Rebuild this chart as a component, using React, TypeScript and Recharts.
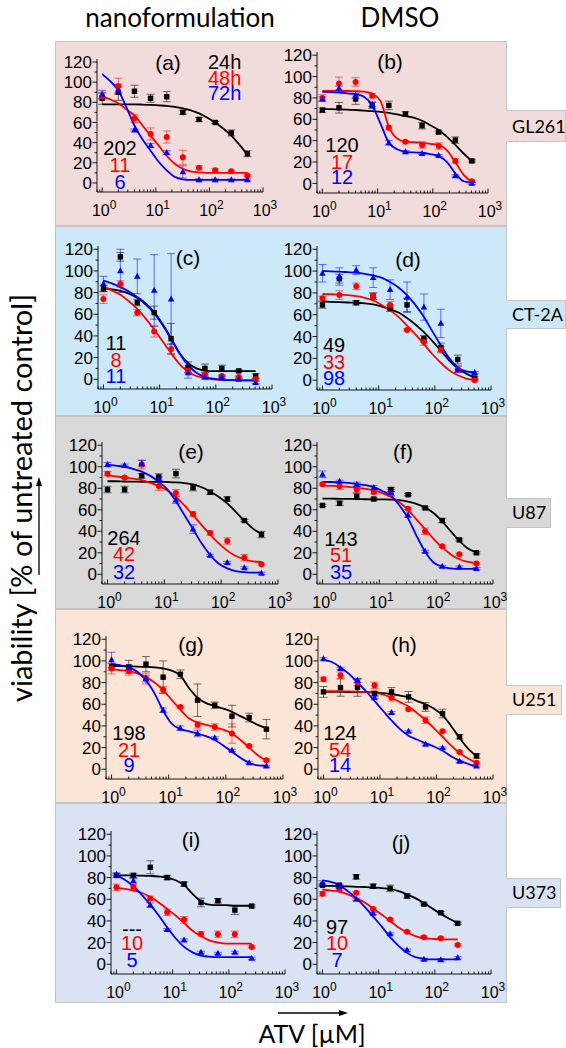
import React from 'react';
import { ComposedChart, Scatter, XAxis, YAxis, ErrorBar } from 'recharts';

// ---------- shared axes / labels ----------
const DOSES = [1, 2, 4, 8, 16, 32, 64, 128, 256, 512];
const DOSES_U373 = [1, 2, 4, 8, 16, 32, 64, 128, 256];
const FIT_X = [1, 1.41, 2, 2.83, 4, 5.66, 8, 11.3, 16, 22.6, 32, 45, 64, 90, 128, 181, 256, 362, 512];
const FIT_X_U373 = [1, 1.41, 2, 2.83, 4, 5.66, 8, 11.3, 16, 22.6, 32, 45, 64, 90, 128, 181, 256];
const X_TICKS = [0.8, 0.9, 1, 2, 3, 4, 5, 6, 7, 8, 9, 10, 20, 30, 40, 50, 60, 70, 80, 90, 100, 200, 300, 400, 500, 600, 700, 800, 900, 1000];
const Y_TICKS = [0, 10, 20, 30, 40, 50, 60, 70, 80, 90, 100, 110, 120];
const TIME_LABELS = ['24h', '48h', '72h'];
const COLUMN_TITLES = ['nanoformulation', 'DMSO'];
const CELL_LINES = ['GL261', 'CT-2A', 'U87', 'U251', 'U373'];
const PANEL_LETTERS = ['(a)', '(b)', '(c)', '(d)', '(e)', '(f)', '(g)', '(h)', '(i)', '(j)'];
const Y_TITLE = 'viability [% of untreated control]';
const X_TITLE = 'ATV [\u00b5M]';

// ---------- IC50 labels ----------
const IC50_A = ['202', '11', '6'];
const IC50_B = ['120', '17', '12'];
const IC50_C = ['11', '8', '11'];
const IC50_D = ['49', '33', '98'];
const IC50_E = ['264', '42', '32'];
const IC50_F = ['143', '51', '35'];
const IC50_G = ['198', '21', '9'];
const IC50_H = ['124', '54', '14'];
const IC50_I = ['---', '10', '5'];
const IC50_J = ['97', '10', '7'];

// ---------- (a) GL261 nano ----------
const A_24H = [84, 90, 91, 84, 85.6, 70, 63, 60, 49.6, 29];
const A_24H_ERR = [6, 8, 6, 4, 5, 2, 2, 1, 3, 3];
const A_48H = [86, 96, 64, 48.6, 45.6, 25.5, 15, 12.5, 11.6, 7.5];
const A_48H_ERR = [3, 8, 4, 6, 6, 7, 2, 2, 1, 1];
const A_72H = [88, 92, 52.5, 37, 30, 11, 3, 3, 3, 3];
const A_72H_ERR = [4, 3, 1, 2, 2, 6, 1, 1, 1, 1];
const A_24H_FIT = [78, 78, 78, 78, 78, 77.8, 77.5, 77, 76.5, 75.5, 74, 72, 69, 65, 60, 54, 47, 38, 28];
const A_48H_FIT = [86, 83, 79, 73, 67, 57, 47, 37, 27, 19, 14, 11.5, 10.5, 10, 10, 10, 10, 10, 10];
const A_72H_FIT = [108, 101, 92, 75, 57, 43, 32, 21, 12.5, 6, 3.6, 3, 3, 3, 3, 3, 3, 3, 3];

// ---------- (b) GL261 DMSO ----------
const B_24H = [68.6, 70.8, 79, 73, 73, 65, 54, 48, 40.5, 21];
const B_24H_ERR = [2, 5, 5, 3, 4, 2, 3, 1, 3, 1];
const B_48H = [80, 93.5, 95, 82, 52, 39, 36, 35, 21, 2];
const B_48H_ERR = [3, 6, 4, 2, 2, 1, 3, 3, 2, 1];
const B_72H = [79, 89, 82.6, 74, 38, 29.6, 28, 26, 7, 0];
const B_72H_ERR = [2, 2, 3, 2, 2, 1, 1, 1, 1, 1];
const B_24H_FIT = [69.5, 69.5, 69.3, 69, 68.7, 68.2, 67.6, 67, 66, 64.5, 63, 61.5, 58.6, 54.5, 50, 43.6, 36, 28, 21];
const B_48H_FIT = [86.6, 86.6, 86.5, 86.5, 86.3, 86, 84, 77, 53, 42, 39, 38.5, 38, 37, 36, 31, 20, 8, 1.5];
const B_72H_FIT = [85.7, 85.5, 85, 84.3, 83.5, 81, 73, 56, 38, 32, 29.6, 29, 28.7, 27.5, 25.5, 20, 9.4, 2, 0.6];

// ---------- (c) CT-2A nano ----------
const C_24H = [83.7, 113, 70.8, 61.5, 37.5, 11, 10, 10, 7.7, 3];
const C_24H_ERR = [3, 4, 3, 6, 14, 5, 4, 3, 1, 2];
const C_48H = [74, 88, 61.5, 44, 28, 8, 4.6, 3, 2, 0];
const C_48H_ERR = [4, 3, 3, 5, 5, 2, 2, 1, 1, 1];
const C_72H = [88, 100, 95, 82, 74, 6, 2, 2, 0, -3];
const C_72H_ERR = [7, 20, 16, 33, 42, 5, 2, 1, 1, 1];
const C_24H_FIT = [84, 83, 81.5, 79, 75, 69, 61, 50, 37, 24, 15, 10, 8, 7.5, 7.5, 7.5, 7.5, 7.5, 7.5];
const C_48H_FIT = [85, 82, 78, 72, 65, 56, 46, 35, 24, 14, 7, 3, 1, 0, -0.5, -0.8, -1, -1, -1];
const C_72H_FIT = [91, 88.5, 85, 81, 76, 70, 62, 51, 38, 24, 13, 6, 2, 0.5, -0.5, -0.8, -1, -1, -1];

// ---------- (d) CT-2A DMSO ----------
const D_24H = [69, 93, 71, 77, 66, 69, 38, 30, 19, 2];
const D_24H_ERR = [3, 4, 2, 3, 3, 6, 3, 4, 4, 1];
const D_48H = [75, 78, 86, 77, 69, 46, 35, 28, 10, 0];
const D_48H_ERR = [2, 4, 3, 3, 3, 1, 3, 3, 3, 1];
const D_72H = [98, 95, 101, 94, 83, 76, 67, 52, 10, 7];
const D_72H_ERR = [8, 8, 4, 9, 9, 14, 12, 13, 3, 1];
const D_24H_FIT = [72, 71.8, 71.5, 71.2, 71, 70.5, 69.5, 67.5, 65, 62, 57, 51, 44, 36, 27, 18, 11, 6, 2.5];
const D_48H_FIT = [79, 78.8, 78.5, 78, 77, 75.5, 73, 69, 64, 58, 50, 42, 33, 24, 16, 9, 4.5, 1.5, 0];
const D_72H_FIT = [100, 99.8, 99.5, 99, 98.5, 97.5, 96, 94, 90, 85, 78, 69, 58, 45, 32, 20, 12, 8, 7];

// ---------- (e) U87 nano ----------
const E_24H = [78.8, 78.8, 91.5, 90.5, 93.6, 80.6, 76.3, 70, 50, 37];
const E_24H_ERR = [3, 3, 2, 3, 4, 3, 2, 2, 1, 3];
const E_48H = [93.6, 90, 102, 82, 75.7, 56, 38.4, 31, 15.5, 9.3];
const E_48H_ERR = [2, 1, 4, 4, 3, 2, 2, 3, 3, 1];
const E_72H = [102, 101.4, 103, 88.4, 69, 42, 17.7, 11, 6, 1];
const E_72H_ERR = [2, 1, 3, 2, 3, 4, 1, 1, 1, 1];
const E_24H_FIT = [86.5, 86.5, 86.3, 86.2, 86, 86, 86, 85.8, 85.5, 84.8, 83.5, 81, 77, 72, 66, 58, 50, 42.5, 37.5];
const E_48H_FIT = [92, 91, 90, 89, 87.5, 85, 82, 78, 72, 64, 55, 46, 37, 29, 22, 17, 14, 12, 11.5];
const E_72H_FIT = [102, 101, 100, 98, 95.5, 91.5, 86, 79, 68, 55, 42, 29, 18, 10, 5.5, 3, 2, 1.5, 1.5];

// ---------- (f) U87 DMSO ----------
const F_24H = [64, 66, 72.5, 70, 78.8, 74, 61.7, 50, 32, 20];
const F_24H_ERR = [1, 2, 3, 1, 2, 1, 1, 2, 1, 1];
const F_48H = [83.7, 81.9, 78.8, 76.6, 75, 61, 40, 26, 18.6, 10];
const F_48H_ERR = [1, 3, 3, 2, 2, 1, 3, 1, 1, 1];
const F_72H = [93, 86.5, 83.7, 80.6, 76, 55, 21.4, 7.4, 6.8, 5.3];
const F_72H_ERR = [3, 1, 2, 2, 3, 2, 1, 1, 1, 1];
const F_24H_FIT = [70.4, 70.3, 70.2, 70.1, 70, 69.8, 69.7, 69.6, 69.5, 69, 67.5, 65.5, 62, 57, 49, 40, 31, 24, 20.5];
const F_48H_FIT = [82.5, 82.3, 82, 81.3, 80.5, 79.5, 78, 75.5, 72, 67, 60, 51, 42, 33, 25, 18.5, 14, 11.5, 10.5];
const F_72H_FIT = [86, 85.8, 85.5, 85, 84, 83, 81, 77.5, 73, 64, 52, 36, 21, 11, 7, 5.5, 5, 5, 5];

// ---------- (g) U251 nano ----------
const G_24H = [94.5, 94.5, 97, 85, 87.7, 63.7, 59, 49, 47.7, 37];
const G_24H_ERR = [3, 6, 7, 15, 4, 15, 3, 10, 4, 9];
const G_48H = [93, 90.8, 83.7, 73.5, 57.5, 41, 39, 33, 21.5, 8.3];
const G_48H_ERR = [5, 4, 5, 3, 1, 3, 3, 9, 1, 1];
const G_72H = [101, 93.8, 83.7, 54.5, 38, 33, 29, 17.5, 6, 2.8];
const G_72H_ERR = [7, 2, 3, 2, 2, 3, 1, 1, 1, 1];
const G_24H_FIT = [95.4, 95.2, 95, 94.8, 94.5, 94, 93, 91, 86.5, 75, 66, 61, 58.5, 56, 53, 49, 45, 41, 38];
const G_48H_FIT = [92.5, 91.5, 90.5, 88.5, 85, 80, 73, 64, 55, 47, 43, 41, 39, 36.5, 33, 27, 20, 13, 8];
const G_72H_FIT = [97, 96, 94, 90, 82, 70, 54, 42, 37, 35, 33, 30.5, 27, 22, 16, 10.5, 6, 3.5, 3];

// ---------- (h) U251 DMSO ----------
const H_24H = [71.4, 75.4, 75.4, 70, 71.4, 66.8, 57.5, 51.4, 30, 12.3];
const H_24H_ERR = [5, 8, 8, 2, 4, 5, 4, 4, 2, 2];
const H_48H = [83, 86.8, 80, 77.5, 66, 55.4, 45.2, 35, 16, 6];
const H_48H_ERR = [2, 3, 3, 3, 3, 1, 3, 1, 1, 1];
const H_72H = [102, 93, 82, 66, 52.3, 35, 23, 19.7, 7.4, 3];
const H_72H_ERR = [1, 1, 2, 1, 1, 1, 1, 1, 1, 1];
const H_24H_FIT = [71.5, 71.5, 71.4, 71.3, 71.2, 71.1, 71, 70.3, 69.5, 68, 66.5, 63, 60, 56, 50, 40, 29, 19, 12];
const H_48H_FIT = [72, 72, 72, 71.8, 71.5, 71.2, 70.5, 69, 66, 62, 58, 52, 45.5, 38, 30, 22, 15, 10, 6];
const H_72H_FIT = [101, 99, 94, 88, 80, 72, 63, 54, 45, 37, 31, 27.5, 24, 21, 17, 12, 8, 5, 2.5];

// ---------- (i) U373 nano ----------
const I_24H = [82, 82, 89.5, 80, 74, 57, 58.6, 50, 53.7];
const I_24H_ERR = [2, 2, 6, 2, 2, 4, 2, 4, 1];
const I_48H = [71, 71.5, 60.8, 48, 41, 28, 27.6, 27.6, 16];
const I_48H_ERR = [3, 2, 2, 3, 3, 2, 3, 3, 1];
const I_72H = [83, 77, 54.6, 32, 22.4, 11, 10, 11, 5.5];
const I_72H_ERR = [1, 2, 2, 1, 1, 1, 1, 1, 1];
const I_24H_FIT = [82, 82, 82, 81.8, 81.5, 81, 80, 77.5, 73, 65, 58, 55, 54.5, 54.5, 54, 54, 54];
const I_48H_FIT = [70.5, 69.5, 68, 66, 62, 57, 51, 45, 38, 31, 26, 22, 20, 19, 19, 19, 19];
const I_72H_FIT = [82, 78, 72, 64, 55, 45, 34, 24, 16, 11, 8, 7, 6.5, 6.5, 6.5, 6.5, 6.5];

// ---------- (j) U373 DMSO ----------
const J_24H = [73, 73, 80.7, 72, 70, 63, 55.5, 47.6, 37.8];
const J_24H_ERR = [1, 1, 2, 2, 3, 2, 1, 1, 1];
const J_48H = [65, 69, 66, 51, 41.4, 30, 25, 24, 17.8];
const J_48H_ERR = [2, 1, 1, 1, 1, 1, 1, 1, 1];
const J_72H = [75, 72, 60, 47, 28, 13, 4.6, 4, 6];
const J_72H_ERR = [2, 1, 1, 1, 1, 1, 1, 1, 1];
const J_24H_FIT = [72.5, 72.3, 72, 71.8, 71.5, 71.3, 71, 70.3, 69.5, 67.5, 64.5, 61, 56.5, 51.5, 46.5, 42, 38];
const J_48H_FIT = [69, 68, 67, 64.5, 61, 57, 51.5, 46, 40, 34, 29.5, 26, 24, 23.5, 23, 23, 23];
const J_72H_FIT = [77.5, 76, 73, 67.5, 61, 53, 44, 35, 25, 17, 10.5, 6.5, 5, 4.5, 4.5, 4.5, 4.5];

// ---------- styling / layout ----------
const PLOT_FONT = "'Liberation Sans', Arial, sans-serif";
const TITLE_FONT = "Lato, 'Open Sans', sans-serif";
const COLORS = ['#000000', '#ff0000', '#0000ff'];
const ROW_COLORS = ['#f2dcdb', '#cde9f9', '#d9d9d9', '#fbe5d6', '#dae3f3'];
const BORDER = '#c4c4c4';

const ROW_LAYOUT = [
  { top: 41, bottom: 226, boxTop: 110, boxBottom: 142, boxRight: 566, textY: 127 },
  { top: 226, bottom: 416, boxTop: 300, boxBottom: 329, boxRight: 566, textY: 315 },
  { top: 416, bottom: 609, boxTop: 498, boxBottom: 528, boxRight: 551, textY: 513 },
  { top: 609, bottom: 803, boxTop: 685, boxBottom: 715, boxRight: 562, textY: 700 },
  { top: 803, bottom: 1003, boxTop: 878, boxBottom: 908, boxRight: 561, textY: 893 },
];
const BAND_LEFT = 55;
const BAND_RIGHT = 507;

const PANEL_LAYOUT = [
  { L: 97, R: 263, T: 59, B: 192, letter: [168, 63], icX: 120, icY: [148, 165, 182] },
  { L: 317, R: 488, T: 52, B: 193, letter: [390, 62], icX: 342, icY: [145, 162, 177] },
  { L: 98, R: 272, T: 246, B: 389, letter: [188, 258], icX: 116, icY: [343, 360, 376] },
  { L: 317, R: 491, T: 246, B: 390, letter: [408, 260], icX: 334, icY: [345, 362, 378] },
  { L: 102, R: 278, T: 442, B: 584, letter: [191, 452], icX: 124, icY: [538, 554, 572] },
  { L: 317, R: 493, T: 442, B: 584, letter: [403, 452], icX: 341, icY: [539, 555, 572] },
  { L: 106, R: 283, T: 636, B: 779, letter: [191, 645], icX: 129, icY: [733, 750, 765] },
  { L: 318, R: 493, T: 636, B: 779, letter: [404, 645], icX: 340, icY: [733, 750, 765] },
  { L: 111, R: 285, T: 831, B: 974, letter: [191, 840], icX: 132, icY: [929, 943, 960] },
  { L: 317, R: 491, T: 831, B: 974, letter: [401, 843], icX: 337, icY: [927, 943, 960] },
];

const pts = (xs: number[], ys: number[], errs: number[]) => xs.map((x, i) => ({ x, y: ys[i], err: errs[i] }));
const fit = (xs: number[], ys: number[]) => xs.map((x, i) => ({ x, y: ys[i] }));

type Panel = { doses: number[]; fx: number[]; vals: number[][]; errs: number[][]; fits: number[][]; ic50: string[] };

const PANELS: Panel[] = [
  { doses: DOSES, fx: FIT_X, vals: [A_24H, A_48H, A_72H], errs: [A_24H_ERR, A_48H_ERR, A_72H_ERR], fits: [A_24H_FIT, A_48H_FIT, A_72H_FIT], ic50: IC50_A },
  { doses: DOSES, fx: FIT_X, vals: [B_24H, B_48H, B_72H], errs: [B_24H_ERR, B_48H_ERR, B_72H_ERR], fits: [B_24H_FIT, B_48H_FIT, B_72H_FIT], ic50: IC50_B },
  { doses: DOSES, fx: FIT_X, vals: [C_24H, C_48H, C_72H], errs: [C_24H_ERR, C_48H_ERR, C_72H_ERR], fits: [C_24H_FIT, C_48H_FIT, C_72H_FIT], ic50: IC50_C },
  { doses: DOSES, fx: FIT_X, vals: [D_24H, D_48H, D_72H], errs: [D_24H_ERR, D_48H_ERR, D_72H_ERR], fits: [D_24H_FIT, D_48H_FIT, D_72H_FIT], ic50: IC50_D },
  { doses: DOSES, fx: FIT_X, vals: [E_24H, E_48H, E_72H], errs: [E_24H_ERR, E_48H_ERR, E_72H_ERR], fits: [E_24H_FIT, E_48H_FIT, E_72H_FIT], ic50: IC50_E },
  { doses: DOSES, fx: FIT_X, vals: [F_24H, F_48H, F_72H], errs: [F_24H_ERR, F_48H_ERR, F_72H_ERR], fits: [F_24H_FIT, F_48H_FIT, F_72H_FIT], ic50: IC50_F },
  { doses: DOSES, fx: FIT_X, vals: [G_24H, G_48H, G_72H], errs: [G_24H_ERR, G_48H_ERR, G_72H_ERR], fits: [G_24H_FIT, G_48H_FIT, G_72H_FIT], ic50: IC50_G },
  { doses: DOSES, fx: FIT_X, vals: [H_24H, H_48H, H_72H], errs: [H_24H_ERR, H_48H_ERR, H_72H_ERR], fits: [H_24H_FIT, H_48H_FIT, H_72H_FIT], ic50: IC50_H },
  { doses: DOSES_U373, fx: FIT_X_U373, vals: [I_24H, I_48H, I_72H], errs: [I_24H_ERR, I_48H_ERR, I_72H_ERR], fits: [I_24H_FIT, I_48H_FIT, I_72H_FIT], ic50: IC50_I },
  { doses: DOSES_U373, fx: FIT_X_U373, vals: [J_24H, J_48H, J_72H], errs: [J_24H_ERR, J_48H_ERR, J_72H_ERR], fits: [J_24H_FIT, J_48H_FIT, J_72H_FIT], ic50: IC50_J },
];

// ---------- shapes & ticks ----------
const SquareShape = (p: any) => <rect x={p.cx - 2.7} y={p.cy - 2.7} width={5.4} height={5.4} fill="#000" />;
const CircleShape = (p: any) => <circle cx={p.cx} cy={p.cy} r={3} fill="#ff0000" />;
const TriangleShape = (p: any) => (
  <polygon points={`${p.cx},${p.cy - 3.6} ${p.cx - 3.3},${p.cy + 2.4} ${p.cx + 3.3},${p.cy + 2.4}`} fill="#0000ff" />
);
const EmptyShape = () => <g />;
const SHAPES = [SquareShape, CircleShape, TriangleShape];

const XTick = (props: any) => {
  const { x, y, payload } = props;
  const v = payload.value;
  const lg = Math.log10(v);
  const exp = Math.round(lg);
  const major = Math.abs(lg - exp) < 1e-6;
  return (
    <g>
      <line x1={x} x2={x} y1={y} y2={y - (major ? 4.5 : 2.5)} stroke="#000" strokeWidth={0.9} />
      {major && (
        <text x={x + 2} y={y + 24} textAnchor="middle" fontFamily={PLOT_FONT} fontSize={16} fill="#000">
          10<tspan dy={-7} fontSize={12}>{exp}</tspan>
        </text>
      )}
    </g>
  );
};

const YTick = (props: any) => {
  const { x, y, payload } = props;
  const v = payload.value;
  const major = v % 20 === 0;
  return (
    <g>
      <line x1={x} x2={x - (major ? 4.5 : 2.5)} y1={y} y2={y} stroke="#000" strokeWidth={0.9} />
      {major && (
        <text x={x - 5} y={y} dy="0.36em" textAnchor="end" fontFamily={PLOT_FONT} fontSize={17} fill="#000">
          {v}
        </text>
      )}
    </g>
  );
};

const YW = 44;
const MT = 6;
const MR = 22;
const XH = 34;

function PanelChart({ panel, layout }: { panel: Panel; layout: any }) {
  const { L, R, T, B } = layout;
  const width = YW + (R - L) + MR;
  const height = MT + (B - T) + XH;
  return (
    <div style={{ position: 'absolute', left: L - YW, top: T - MT }}>
      <ComposedChart width={width} height={height} margin={{ top: MT, right: MR, bottom: 0, left: 0 }}>
        <XAxis
          type="number"
          dataKey="x"
          scale="log"
          domain={[0.8, 1000]}
          allowDataOverflow
          ticks={X_TICKS}
          interval={0}
          tick={<XTick />}
          tickSize={0}
          tickMargin={0}
          height={XH}
          stroke="#000"
          strokeWidth={0.9}
        />
        <YAxis
          type="number"
          dataKey="y"
          domain={[-9, 123]}
          allowDataOverflow
          ticks={Y_TICKS}
          interval={0}
          tick={<YTick />}
          tickSize={0}
          tickMargin={0}
          width={YW}
          stroke="#000"
          strokeWidth={0.9}
        />
        {panel.fits.map((f, i) => (
          <Scatter
            key={'fit' + i}
            data={fit(panel.fx, f)}
            dataKey="y"
            fill={COLORS[i]}
            line={{ stroke: COLORS[i], strokeWidth: 1.8 }}
            lineJointType="monotoneX"
            shape={EmptyShape}
            isAnimationActive={false}
          />
        ))}
        {panel.vals.map((v, i) => (
          <Scatter
            key={'pts' + i}
            data={pts(panel.doses, v, panel.errs[i])}
            dataKey="y"
            fill={COLORS[i]}
            shape={SHAPES[i]}
            isAnimationActive={false}
          >
            <ErrorBar dataKey="err" direction="y" width={4} stroke={COLORS[i]} strokeOpacity={0.55} strokeWidth={1} />
          </Scatter>
        ))}
      </ComposedChart>
    </div>
  );
}

export default function App() {
  return (
    <div style={{ position: 'absolute', left: 0, top: 0, width: 566, height: 1048, background: '#fff', overflow: 'hidden' }}>
      {ROW_LAYOUT.map((r, i) => (
        <React.Fragment key={'row' + i}>
          <div
            style={{
              position: 'absolute',
              left: BAND_LEFT,
              top: r.top,
              width: BAND_RIGHT - BAND_LEFT,
              height: r.bottom - r.top,
              background: ROW_COLORS[i],
              border: `1px solid ${BORDER}`,
              boxSizing: 'border-box',
            }}
          />
          <div
            style={{
              position: 'absolute',
              left: BAND_RIGHT - 1,
              top: r.boxTop,
              width: r.boxRight - BAND_RIGHT + 1,
              height: r.boxBottom - r.boxTop,
              background: ROW_COLORS[i],
              border: `1px solid ${BORDER}`,
              borderLeft: 'none',
              boxSizing: 'border-box',
            }}
          />
        </React.Fragment>
      ))}
      {PANELS.map((p, i) => (
        <PanelChart key={'panel' + i} panel={p} layout={PANEL_LAYOUT[i]} />
      ))}
      <svg width={566} height={1048} style={{ position: 'absolute', left: 0, top: 0, pointerEvents: 'none' }}>
        <text x={180} y={27} textAnchor="middle" fontFamily={TITLE_FONT} fontSize={26} fill="#000">{COLUMN_TITLES[0]}</text>
        <text x={400} y={27} textAnchor="middle" fontFamily={TITLE_FONT} fontSize={26} fill="#000">{COLUMN_TITLES[1]}</text>
        {ROW_LAYOUT.map((r, i) => (
          <text key={'lbl' + i} x={512} y={r.textY} dy="0.35em" fontFamily={TITLE_FONT} fontSize={18} fill="#000">{CELL_LINES[i]}</text>
        ))}
        {PANEL_LAYOUT.map((l, i) => (
          <g key={'txt' + i}>
            <text x={l.letter[0]} y={l.letter[1]} dy="0.35em" textAnchor="middle" fontFamily={PLOT_FONT} fontSize={21} fill="#000">{PANEL_LETTERS[i]}</text>
            {PANELS[i].ic50.map((s, k) => (
              <text key={k} x={l.icX} y={l.icY[k]} dy="0.35em" textAnchor="middle" fontFamily={PLOT_FONT} fontSize={20} fill={COLORS[k]}>{s}</text>
            ))}
          </g>
        ))}
        {TIME_LABELS.map((t, k) => (
          <text key={'t' + k} x={208} y={[62, 78, 93][k]} dy="0.35em" fontFamily={PLOT_FONT} fontSize={20} fill={COLORS[k]}>{t}</text>
        ))}
        <text transform="translate(22,498) rotate(-90)" textAnchor="middle" dy="0.35em" fontFamily={TITLE_FONT} fontSize={29} fill="#000">{Y_TITLE}</text>
        <line x1={39} y1={575} x2={39} y2={484} stroke="#000" strokeWidth={1.3} />
        <polygon points="39,477 36,486 42,486" fill="#000" />
        <line x1={278} y1={1013} x2={341} y2={1013} stroke="#000" strokeWidth={1.3} />
        <polygon points="348,1013 339,1010 339,1016" fill="#000" />
        <text x={312} y={1034} dy="0.35em" textAnchor="middle" fontFamily={TITLE_FONT} fontSize={25} fill="#000">{X_TITLE}</text>
      </svg>
    </div>
  );
}
